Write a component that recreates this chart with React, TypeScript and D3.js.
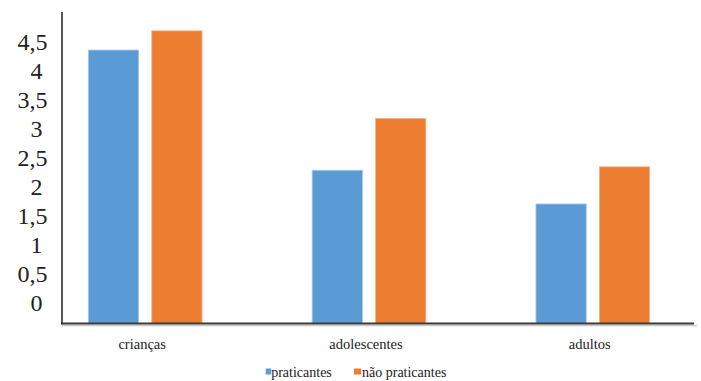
import React from "react";
import * as d3 from "d3";

const categories = ["crianças", "adolescentes", "adultos"];
const seriesNames = ["praticantes", "não praticantes"];
const praticantes = [4.36, 2.29, 1.71];
const naoPraticantes = [4.69, 3.18, 2.35];
const yTicks = [0, 0.5, 1, 1.5, 2, 2.5, 3, 3.5, 4, 4.5];
const yTickLabels = ["0", "0,5", "1", "1,5", "2", "2,5", "3", "3,5", "4", "4,5"];
const colors = ["#5B9BD5", "#ED7D31"];

export default function App() {
  const W = 701;
  const H = 381;
  const axisX = 62;
  const baseY = 323.5;
  const y = d3.scaleLinear().domain([0, 4.5]).range([303.3, 41.9]);
  const x0 = d3.scaleBand<string>().domain(categories).range([33.3, 704.7]).padding(0);
  const x1 = d3
    .scaleBand<string>()
    .domain(seriesNames)
    .range([55.05, 168.75])
    .paddingInner(0.207)
    .paddingOuter(0);
  const seriesValues = [praticantes, naoPraticantes];
  const font = "Liberation Serif";

  return (
    <svg
      width={W}
      height={H}
      fontFamily={font}
      style={{ position: "absolute", left: 0, top: 0, background: "#fff" }}
    >
      {categories.map((c, ci) => (
        <g key={c}>
          {seriesNames.map((s, si) => {
            const v = seriesValues[si][ci];
            const top = y(v);
            return (
              <rect
                key={s}
                x={(x0(c) ?? 0) + (x1(s) ?? 0)}
                y={top}
                width={x1.bandwidth()}
                height={baseY - top}
                fill={colors[si]}
                stroke={si === 0 ? "#a9c9ea" : "#f5b58c"}
                strokeWidth={0.8}
              />
            );
          })}
          <text
            x={(x0(c) ?? 0) + x0.bandwidth() / 2 - 3}
            y={349}
            textAnchor="middle"
            fontSize={14.5}
            fill="#222"
            fontFamily={font}
          >
            {c}
          </text>
        </g>
      ))}
      {yTicks.map((t, i) => {
        const lab = yTickLabels[i];
        const isInt = lab.indexOf(",") < 0;
        return (
          <text
            key={lab}
            x={isInt ? 42.5 : 47.5}
            y={y(t)}
            dy="0.34em"
            textAnchor="end"
            fontSize={24}
            fill="#222"
            fontFamily={font}
          >
            {lab}
          </text>
        );
      })}
      <line x1={axisX} x2={axisX} y1={12} y2={baseY + 1} stroke="#111" strokeWidth={1.4} />
      <line x1={axisX} x2={697} y1={baseY + 2} y2={baseY + 2} stroke="#c8c8c8" strokeWidth={1.5} />
      <line x1={axisX - 1} x2={694} y1={baseY} y2={baseY} stroke="#3a3a3a" strokeWidth={2} />
      {seriesNames.map((s, si) => {
        const lx = [265.7, 354][si];
        return (
          <g key={s}>
            <rect x={lx} y={368.5} width={si === 0 ? 5.5 : 7} height={6} fill={colors[si]} />
            <text
              x={lx + (si === 0 ? 5.5 : 8)}
              y={377}
              fontSize={14}
              fill="#222"
              fontFamily={font}
            >
              {s}
            </text>
          </g>
        );
      })}
    </svg>
  );
}
